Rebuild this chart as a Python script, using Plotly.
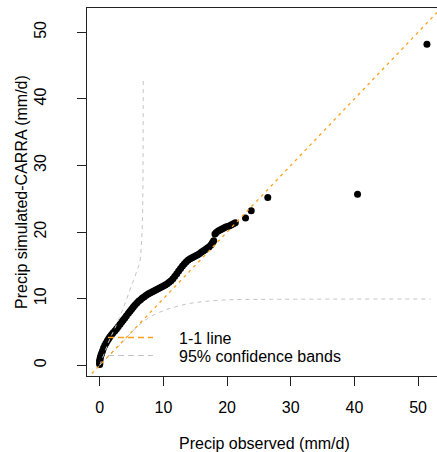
import plotly.graph_objects as go

# Quantile pairs: observed vs. CARRA-simulated daily precipitation (mm/d)
obs_precip = [0.0, 0.0, 0.0, 0.0, 0.05, 0.1, 0.2, 0.3, 0.45, 0.6,
              0.8, 1.0, 1.2, 1.4, 1.6, 1.85, 2.1, 2.4, 2.65, 2.9,
              3.2, 3.45, 3.7, 3.95, 4.2, 4.5, 4.75, 5.0, 5.25, 5.5,
              5.8, 6.1, 6.4, 6.7, 7.0, 7.3, 7.6, 7.9, 8.2, 8.5,
              8.8, 9.1, 9.4, 9.7, 10.0, 10.3, 10.6, 10.9, 11.2, 11.5,
              11.8, 12.1, 12.4, 12.7, 13.0, 13.3, 13.6, 13.9, 14.2, 14.5,
              14.8, 15.1, 15.4, 15.7, 16.0, 16.3, 16.6, 16.9, 17.2, 17.5,
              17.7, 17.9, 18.1, 18.3, 18.6, 18.9, 19.2, 19.5, 19.8, 20.1,
              20.4, 20.7, 21.0, 21.3, 22.9, 23.8, 26.4, 40.5, 51.4]
sim_precip = [0.1, 0.3, 0.5, 0.7, 0.9, 1.2, 1.5, 1.8, 2.2, 2.6,
              3.0, 3.35, 3.7, 4.0, 4.3, 4.6, 4.9, 5.2, 5.5, 5.8,
              6.15, 6.5, 6.8, 7.1, 7.45, 7.8, 8.1, 8.4, 8.7, 9.0,
              9.3, 9.6, 9.85, 10.1, 10.3, 10.5, 10.7, 10.85, 11.0, 11.15,
              11.3, 11.45, 11.6, 11.75, 11.9, 12.05, 12.25, 12.45, 12.7, 13.0,
              13.35, 13.75, 14.15, 14.55, 14.9, 15.25, 15.55, 15.8, 16.0, 16.15,
              16.3, 16.45, 16.6, 16.8, 17.0, 17.2, 17.4, 17.6, 17.8, 18.1,
              18.4, 18.7, 19.7, 19.95, 20.15, 20.3, 20.45, 20.6, 20.75, 20.85,
              20.95, 21.1, 21.25, 21.4, 22.1, 23.2, 25.2, 25.7, 48.2]

# 95% confidence bands
upper_obs = [0.0, 0.8, 1.6, 2.4, 3.7, 5.0, 6.0, 6.3, 6.5, 6.65, 6.75, 6.8, 6.83]
upper_sim = [0.0, 2.0, 4.0, 5.6, 8.6, 12.0, 14.6, 15.5, 17.5, 20.0, 24.0, 30.0, 42.8]
lower_obs = [0.0, 3.0, 6.0, 8.0, 10.0, 12.0, 14.2, 19.4, 27.0, 52.0]
lower_sim = [0.0, 2.9, 5.9, 7.3, 8.2, 8.8, 9.3, 9.8, 9.9, 9.95]

x_ticks = [0, 10, 20, 30, 40, 50]
y_ticks = [0, 10, 20, 30, 40, 50]
x_range = [-2.0, 52.98]
y_range = [-1.61, 53.65]

W, H = 437, 452
ML, MR, MT, MB = 87, 0, 8, 76
FONT = "Liberation Sans, Arial, Helvetica, sans-serif"
ORANGE = "#FF9F1A"
GRAY = "#C4C4C4"


def px_x(p):
    return (p - ML) / (W - ML - MR)


def px_y(p):
    return 1 - (p - MT) / (H - MT - MB)


fig = go.Figure()

fig.add_trace(go.Scatter(
    x=obs_precip, y=sim_precip, mode="markers",
    marker=dict(color="black", size=7, line=dict(width=0)),
    showlegend=False, hoverinfo="skip"))

fig.add_trace(go.Scatter(
    x=upper_obs, y=upper_sim, mode="lines", line_shape="spline",
    line=dict(color=GRAY, width=1, dash="4px,4px"),
    showlegend=False, hoverinfo="skip"))
fig.add_trace(go.Scatter(
    x=lower_obs, y=lower_sim, mode="lines", line_shape="spline",
    line=dict(color=GRAY, width=1, dash="4px,4px"),
    showlegend=False, hoverinfo="skip"))

# 1-1 line across the full panel
fig.add_trace(go.Scatter(
    x=[x_range[0], x_range[1]], y=[x_range[0], x_range[1]], mode="lines",
    line=dict(color=ORANGE, width=1.3, dash="3px,4px"),
    showlegend=False, hoverinfo="skip", cliponaxis=True))

# Legend drawn in the lower part of the panel
shapes = [
    dict(type="line", xref="paper", yref="paper",
         x0=px_x(108), x1=px_x(153), y0=px_y(337.5), y1=px_y(337.5),
         line=dict(color=ORANGE, width=1.4, dash="6px,4px")),
    dict(type="line", xref="paper", yref="paper",
         x0=px_x(108), x1=px_x(153), y0=px_y(355.5), y1=px_y(355.5),
         line=dict(color=GRAY, width=1.2, dash="6px,4px")),
]
annotations = [
    dict(text="1-1 line", xref="paper", yref="paper", x=px_x(177), y=px_y(338),
         xanchor="left", yanchor="middle", showarrow=False,
         font=dict(family=FONT, size=16, color="black")),
    dict(text="95% confidence bands", xref="paper", yref="paper",
         x=px_x(177), y=px_y(356), xanchor="left", yanchor="middle",
         showarrow=False, font=dict(family=FONT, size=16, color="black")),
    dict(text="Precip observed (mm/d)", xref="paper", yref="paper",
         x=px_x(264), y=px_y(443), xanchor="center", yanchor="middle",
         showarrow=False, font=dict(family=FONT, size=16, color="black")),
    dict(text="Precip simulated-CARRA (mm/d)", xref="paper", yref="paper",
         x=px_x(21), y=px_y(192), xanchor="center", yanchor="middle",
         textangle=-90, showarrow=False,
         font=dict(family=FONT, size=16, color="black")),
]

axis_common = dict(
    showgrid=False, zeroline=False, showline=True, mirror=True,
    linecolor="#222222", linewidth=1.3, ticks="outside", ticklen=9,
    tickwidth=1, tickcolor="#222222",
    tickfont=dict(family=FONT, size=16, color="black"),
)

fig.update_layout(
    width=W, height=H,
    margin=dict(l=ML, r=MR, t=MT, b=MB, pad=0),
    paper_bgcolor="white", plot_bgcolor="white",
    xaxis=dict(range=x_range, tickvals=x_ticks, ticklabelstandoff=8,
               **axis_common),
    yaxis=dict(range=y_range, tickvals=y_ticks, tickangle=-90,
               ticklabelstandoff=24, **axis_common),
    shapes=shapes, annotations=annotations,
    showlegend=False,
)

fig.write_html("out.html")
